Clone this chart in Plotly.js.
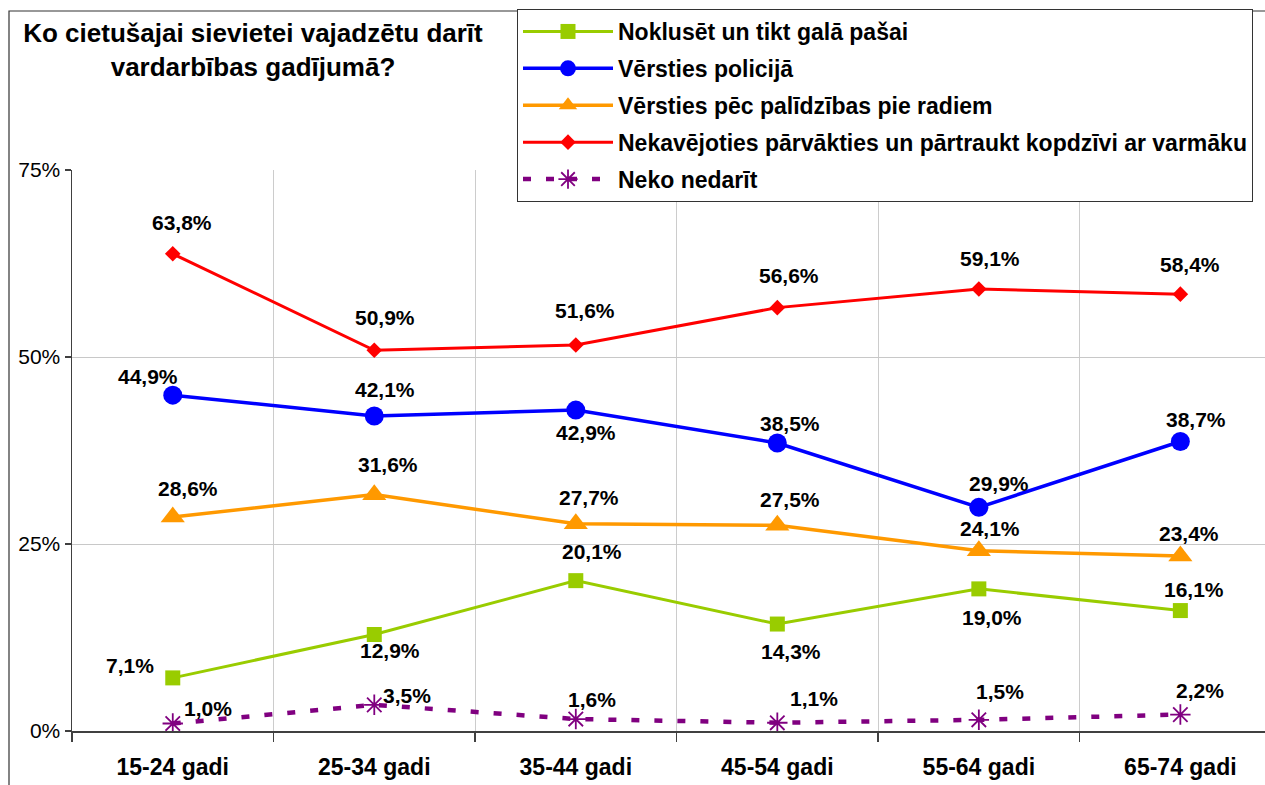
<!DOCTYPE html>
<html>
<head>
<meta charset="utf-8">
<script src="https://cdn.plot.ly/plotly-3.0.1.min.js"></script>
<style>
html,body{margin:0;padding:0;background:#fff;}
#chart{width:1265px;height:785px;}
</style>
</head>
<body>
<div id="chart"></div>
<script>
// ---- data ----
var categories = ["15-24 gadi", "25-34 gadi", "35-44 gadi", "45-54 gadi", "55-64 gadi", "65-74 gadi"];
var seriesNames = [
  "Noklusēt un tikt galā pašai",
  "Vērsties policijā",
  "Vērsties pēc palīdzības pie radiem",
  "Nekavējoties pārvākties un pārtraukt kopdzīvi ar varmāku",
  "Neko nedarīt"
];
var noklusetValues = [7.1, 12.9, 20.1, 14.3, 19.0, 16.1];
var policijaValues = [44.9, 42.1, 42.9, 38.5, 29.9, 38.7];
var radiValues = [28.6, 31.6, 27.7, 27.5, 24.1, 23.4];
var parvaktiesValues = [63.8, 50.9, 51.6, 56.6, 59.1, 58.4];
var nekoValues = [1.0, 3.5, 1.6, 1.1, 1.5, 2.2];
var yTickValues = [0, 25, 50, 75];
var yTickLabels = ["0%", "25%", "50%", "75%"];

// ---- styling ----
var FONT = '"Liberation Sans", Arial, sans-serif';
var styles = [
  {color: '#99CC00', symbol: 'square', size: 15, width: 3, dash: 'solid'},
  {color: '#0000FF', symbol: 'circle', size: 19, width: 3.5, dash: 'solid'},
  {color: '#FF9900', symbol: 'triangle-up', size: 21, width: 3.5, dash: 'solid'},
  {color: '#FF0000', symbol: 'diamond', size: 12, width: 3, dash: 'solid'},
  {color: '#800080', symbol: 'asterisk-open', size: 17, width: 4.5, dash: '8px,15px'}
];
// label offsets in pixels [dx, dy(down)] relative to each point
var labelOffsets = [
  [[-43,-12],[16,16],[16,-29],[14,27],[13,29],[14,-21]],
  [[-25,-19],[11,-27],[10,22],[13,-20],[20,-24],[16,-22]],
  [[15,-29],[14,-30],[13,-26],[13,-26],[11,-22],[9,-22]],
  [[9,-31],[11,-33],[9,-35],[12,-32],[11,-30],[10,-30]],
  [[35,-15],[33,-9],[16,-20],[37,-24],[21,-28],[20,-24]]
];

var allValues = [noklusetValues, policijaValues, radiValues, parvaktiesValues, nekoValues];

var traces = allValues.map(function (vals, s) {
  var st = styles[s];
  var marker = {symbol: st.symbol, size: st.size, color: st.color};
  if (st.symbol === 'asterisk-open') marker.line = {color: st.color, width: 1.8};
  return {
    type: 'scatter',
    mode: 'lines+markers',
    name: seriesNames[s],
    legendgroup: 'g' + s,
    x: categories,
    y: vals,
    line: {color: st.color, width: st.width, dash: st.dash},
    marker: marker,
    hoverinfo: 'skip'
  };
});

function fmt(v) { return v.toFixed(1).replace('.', ',') + '%'; }

var annotations = [];
allValues.forEach(function (vals, s) {
  vals.forEach(function (v, i) {
    annotations.push({
      xref: 'x', yref: 'y', x: categories[i], y: v,
      text: fmt(v), showarrow: false,
      xshift: labelOffsets[s][i][0], yshift: -labelOffsets[s][i][1],
      font: {family: FONT, size: 21, color: '#000', weight: 700}
    });
  });
});

var W = 1265, H = 785;
var mL = 72, mR = 0, mT = 170, mB = 54;
var pw = W - mL - mR, ph = H - mT - mB;
function px2paperX(px) { return (px - mL) / pw; }
function px2paperY(py) { return (H - mB - py) / ph; }

var layout = {
  width: W, height: H,
  margin: {l: mL, r: mR, t: mT, b: mB, pad: 0},
  paper_bgcolor: '#fff', plot_bgcolor: '#fff',
  font: {family: FONT, color: '#000'},
  title: {
    text: 'Ko cietušajai sievietei vajadzētu darīt<br>vardarbības gadījumā?',
    font: {family: FONT, size: 26, color: '#000', weight: 700},
    xref: 'container', yref: 'container',
    x: 253 / W, xanchor: 'center',
    y: 1 - 42 / H, yanchor: 'top'
  },
  showlegend: true,
  legend: {
    x: px2paperX(517), xanchor: 'left',
    y: px2paperY(9), yanchor: 'top',
    bgcolor: '#fff', bordercolor: '#333', borderwidth: 1,
    font: {family: FONT, size: 23, color: '#000', weight: 700},
    itemwidth: 90, tracegroupgap: 4, traceorder: 'grouped'
  },
  xaxis: {
    type: 'category',
    range: [-0.5, 5.42],
    tickson: 'boundaries',
    ticks: 'outside', ticklen: 9, tickcolor: '#404040', tickwidth: 1.5,
    showgrid: true, gridcolor: '#cccccc', gridwidth: 1,
    showline: true, linecolor: '#404040', linewidth: 1.5,
    tickfont: {family: FONT, size: 23, color: '#000', weight: 700},
    ticklabelstandoff: 15,
    fixedrange: true
  },
  yaxis: {
    range: [0, 75],
    tickmode: 'array',
    tickvals: yTickValues,
    ticktext: yTickLabels,
    ticks: 'outside', ticklen: 6, tickcolor: '#404040', tickwidth: 1.5,
    showgrid: true, gridcolor: '#c8c8c8', gridwidth: 1,
    zeroline: false,
    showline: true, linecolor: '#404040', linewidth: 1.5,
    tickfont: {family: FONT, size: 21, color: '#000'},
    fixedrange: true
  },
  shapes: [{
    type: 'rect', xref: 'paper', yref: 'paper', layer: 'below',
    x0: px2paperX(9), x1: px2paperX(1275),
    y0: px2paperY(795), y1: px2paperY(11),
    line: {color: '#333', width: 1.2}, fillcolor: 'rgba(0,0,0,0)'
  }],
  annotations: annotations
};

Plotly.newPlot('chart', traces, layout, {displayModeBar: false, staticPlot: true});
</script>
</body>
</html>
